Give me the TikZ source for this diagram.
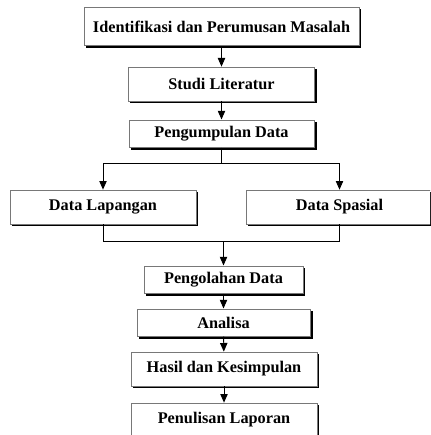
\documentclass[tikz,border=0pt]{standalone}
\usepackage{fontspec}
\setmainfont{Liberation Serif}
\usetikzlibrary{arrows.meta,calc,backgrounds}

\tikzset{
  langkah/.style={draw={rgb,255:red,120;green,120;blue,120}, line width=0.5pt, fill=white,
    inner sep=0pt, font=\fontsize{12.2}{14}\selectfont\bfseries},
  bayang/.style={fill=black},
  alur/.style={line width=0.7pt, -{Triangle[width=5.5pt,length=6.5pt]}},
  garis/.style={line width=0.7pt}
}

\begin{document}
\begin{tikzpicture}[x=0.75pt,y=0.75pt,yscale=-1,xscale=1]
\useasboundingbox (0,0) rectangle (430,435);
\clip (0,0) rectangle (430,435);

% Boxes
\node [langkah, minimum width=206pt, minimum height=29pt] (ident) at (221.5,26.5) {Identifikasi dan Perumusan Masalah};
\node [langkah, minimum width=139.5pt, minimum height=25.5pt] (studi) at (221.5,84) {Studi Literatur};
\node [langkah, minimum width=139pt, minimum height=20.5pt] (kumpul) at (221.5,133.5) {Pengumpulan Data};
\node [langkah, minimum width=139.5pt, minimum height=25.5pt] (lapangan) at (103,207) {Data Lapangan};
\node [langkah, minimum width=139.5pt, minimum height=25.5pt] (spasial) at (339.5,207) {Data Spasial};
\node [langkah, minimum width=119pt, minimum height=20.5pt] (olah) at (223.5,279.5) {Pengolahan Data};
\node [langkah, minimum width=130pt, minimum height=20.5pt] (analisa) at (223.5,322.5) {Analisa};
\node [langkah, minimum width=139.5pt, minimum height=25.5pt] (hasil) at (224,369) {Hasil dan Kesimpulan};
\node [langkah, minimum width=139.5pt, minimum height=25.5pt] (tulis) at (224,420) {Penulisan Laporan};

% Shadows (right and bottom)
\begin{scope}[on background layer]
\foreach \n in {ident,studi,kumpul,lapangan,spasial,olah,analisa,hasil,tulis}
  \fill [bayang] ($(\n.north west)+(2,2)$) rectangle ($(\n.south east)+(2,2)$);
\end{scope}

% Branch points
\coordinate (cabang) at (221.5,163);
\coordinate (gabung) at (223.5,241);

% Connectors
\draw [alur] (ident) -- (studi);
\draw [alur] (studi) -- (kumpul);
\draw [garis] (kumpul) -- (cabang);
\draw [alur] (cabang) -| (lapangan);
\draw [alur] (cabang) -| (spasial);
\draw [garis] (lapangan) |- (gabung);
\draw [garis] (spasial) |- (gabung);
\draw [alur] (gabung) -- (olah);
\draw [alur] (olah) -- (analisa);
\draw [alur] (analisa) -- (hasil);
\draw [alur] (hasil) -- (tulis);

\end{tikzpicture}
\end{document}
